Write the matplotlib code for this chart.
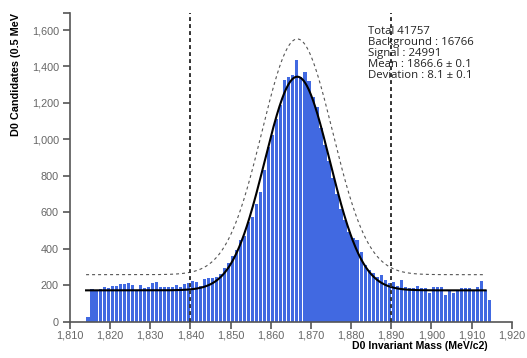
import numpy as np
import matplotlib
matplotlib.use("Agg")
import matplotlib.pyplot as plt
from matplotlib.ticker import FuncFormatter

plt.rcParams['font.family'] = ['Liberation Sans', 'DejaVu Sans']

# D0 invariant mass histogram: 1 MeV bins starting at 1814 MeV
bin_start = 1814.0
bin_width = 1.0
counts = [
    27, 177, 174, 178, 192, 183, 196, 197, 209, 205,
    212, 199, 172, 201, 186, 190, 214, 216, 190, 189,
    188, 190, 201, 192, 207, 214, 223, 220, 195, 234,
    238, 242, 245, 262, 293, 322, 360, 395, 448, 470,
    549, 576, 644, 710, 832, 960, 1024, 1110, 1188, 1326,
    1340, 1352, 1435, 1345, 1370, 1318, 1230, 1180, 1060, 970,
    880, 790, 700, 620, 560, 494, 457, 448, 380, 311,
    283, 265, 245, 256, 228, 210, 220, 195, 228, 192,
    183, 185, 195, 183, 183, 155, 190, 190, 190, 146,
    175, 155, 172, 183, 183, 187, 173, 192, 222, 173,
    119,
]

# Fit summary
total = 41757
background = 16766
signal = 24991
mean, mean_err = 1866.6, 0.1
deviation, deviation_err = 8.1, 0.1

# Fit curve (flat background + gaussian) and its upper envelope
fit_range = (1814.0, 1913.5)
fit_level = 172
fit_peak = 1344
env_level = 258
env_peak = 1551
env_sigma = 8.8

# Signal window edges
window = [1840, 1890]

x_ticks = list(range(1810, 1921, 10))
y_ticks = list(range(0, 1601, 200))
x_limits = (1810, 1920)
y_limits = (0, 1695)

W, H = 527, 358
fig = plt.figure(figsize=(W / 100, H / 100), dpi=100)
ax = fig.add_axes([70 / W, (H - 321.7) / H, (511.7 - 70) / W, (321.7 - 12.7) / H])

centers = bin_start + bin_width * (np.arange(len(counts)) + 0.5)
ax.bar(centers, counts, width=0.8 * bin_width, color='#4169e1', linewidth=0, zorder=2)

xs = np.linspace(fit_range[0], fit_range[1], 600)
fit_curve = fit_level + (fit_peak - fit_level) * np.exp(-0.5 * ((xs - mean) / deviation) ** 2)
env_curve = env_level + (env_peak - env_level) * np.exp(-0.5 * ((xs - mean) / env_sigma) ** 2)
ax.plot(xs, env_curve, color='#555555', lw=0.8, linestyle=(0, (2.7, 2.7)), zorder=3)
ax.plot(xs, fit_curve, color='black', lw=1.5, zorder=4)

for edge in window:
    ax.plot([edge, edge], list(y_limits), color='#333333', lw=1.4,
            linestyle=(0, (2.0, 1.6)), zorder=5, clip_on=False)

ax.set_xlim(*x_limits)
ax.set_ylim(*y_limits)
ax.set_xticks(x_ticks)
ax.set_yticks(y_ticks)
ax.set_yticks([y_limits[1]], minor=True)
fmt = FuncFormatter(lambda v, p: f"{v:,.0f}")
ax.xaxis.set_major_formatter(fmt)
ax.yaxis.set_major_formatter(fmt)

for side in ('top', 'right'):
    ax.spines[side].set_visible(False)
for side in ('left', 'bottom'):
    ax.spines[side].set_color('#555555')
    ax.spines[side].set_linewidth(1.2)
ax.tick_params(which='both', direction='out', length=5, width=1.2, color='#555555',
               labelcolor='#666666', labelsize=7.8, pad=3)
ax.tick_params(axis='x', pad=1.5)
ax.tick_params(axis='y', which='minor', labelleft=False)

fig.text(16 / W, (H - 12.7) / H, "D0 Candidates (0.5 MeV", rotation=90,
         ha='center', va='top', fontsize=7.8, fontweight='bold', color='black')
fig.text(488 / W, (H - 349) / H, "D0 Invariant Mass (MeV/c2)",
         ha='right', va='baseline', fontsize=7.6, fontweight='bold', color='black')

info = [
    f"Total {total}",
    f"Background : {background}",
    f"Signal : {signal}",
    f"Mean : {mean} \u00b1 {mean_err}",
    f"Deviation : {deviation} \u00b1 {deviation_err}",
]
for i, line in enumerate(info):
    fig.text(368 / W, (H - (33.5 + 11.1 * i)) / H, line, ha='left', va='baseline',
             fontsize=8.2, family=['Open Sans', 'DejaVu Sans'], color='#222222')

fig.savefig("out.png", dpi=100)
